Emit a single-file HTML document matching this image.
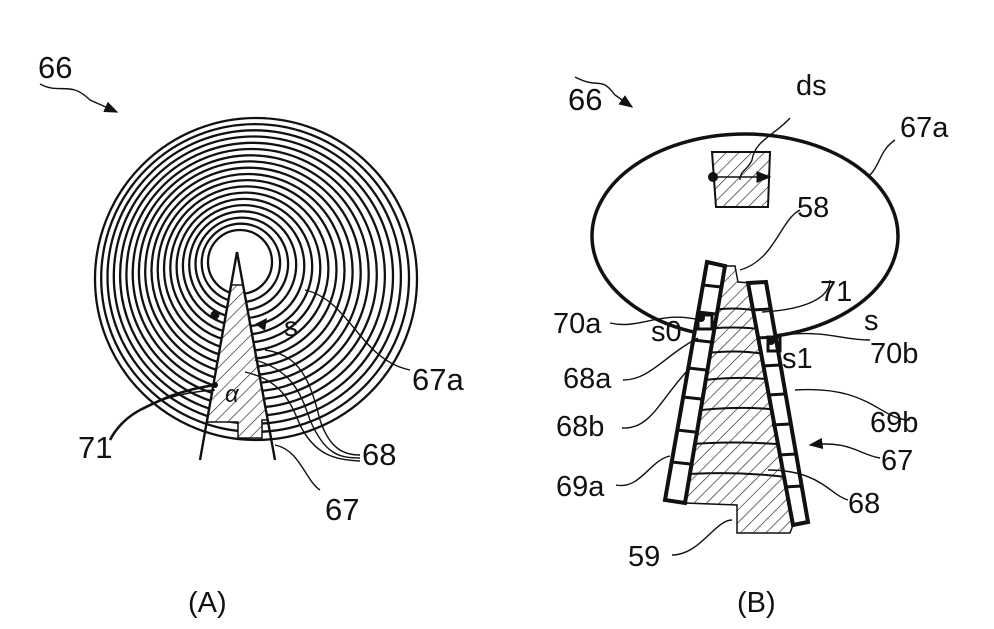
<!DOCTYPE html>
<html><head><meta charset="utf-8"><style>
html,body{margin:0;padding:0;background:#fff;}
svg{display:block;}
text{font-family:"Liberation Sans",sans-serif;fill:#111;}
</style></head><body>
<svg width="994" height="629" viewBox="0 0 994 629" xmlns="http://www.w3.org/2000/svg">
<defs>
<pattern id="h" width="9" height="9" patternUnits="userSpaceOnUse" patternTransform="rotate(45)">
<rect width="9" height="9" fill="#fff"/><line x1="0" y1="0" x2="0" y2="9" stroke="#222" stroke-width="1.3"/>
</pattern>
<marker id="ah" markerWidth="10" markerHeight="8" refX="9" refY="4" orient="auto"><path d="M0,0 L10,4 L0,8 z" fill="#111"/></marker>
</defs>
<g fill="none" stroke="#111" stroke-width="2.3">
<circle cx="240" cy="262" r="32"/><circle cx="240.9" cy="262.9" r="39.2"/><circle cx="241.8" cy="263.9" r="46.3"/>
<circle cx="242.7" cy="264.8" r="53.5"/><circle cx="243.6" cy="265.8" r="60.7"/><circle cx="244.4" cy="266.7" r="67.8"/>
<circle cx="245.3" cy="267.6" r="75"/><circle cx="246.2" cy="268.6" r="82.2"/><circle cx="247.1" cy="269.5" r="89.4"/>
<circle cx="248" cy="270.5" r="96.5"/><circle cx="248.9" cy="271.4" r="103.7"/><circle cx="249.8" cy="272.3" r="110.9"/>
<circle cx="250.7" cy="273.3" r="118"/><circle cx="251.6" cy="274.2" r="125.2"/><circle cx="252.5" cy="275.2" r="132.4"/>
<circle cx="253.4" cy="276.1" r="139.6"/><circle cx="254.2" cy="277" r="146.7"/><circle cx="255.1" cy="278" r="153.9"/>
<circle cx="256" cy="279" r="161"/>
</g>
<!-- wedge -->
<path d="M231,285 L243,285 L268,420 L262,420 L262,438 L238,438 L238,422 L207,422 Z" fill="url(#h)" stroke="#111" stroke-width="1.5"/>
<line x1="237" y1="252" x2="200" y2="460" stroke="#111" stroke-width="2.4"/>
<line x1="237" y1="252" x2="275" y2="460" stroke="#111" stroke-width="2.4"/>
<circle cx="215" cy="315" r="4.5" fill="#111"/><path d="M255,324 L267,318 L265,331 z" fill="#111"/>
<text x="284" y="336" font-size="28">s</text>
<text x="225" y="402" font-size="24" font-style="italic">α</text>
<circle cx="215" cy="385" r="3" fill="#111"/>
<g fill="none" stroke="#111" stroke-width="1.4">
<path d="M40,84 C60,95 70,80 90,100 L117,112" marker-end="url(#ah)"/>
<path d="M305,290 C350,300 360,360 410,370"/>
<path d="M265,350 C300,355 310,380 320,420 C330,450 345,455 360,455"/>
<path d="M255,360 C290,370 300,390 310,420 C325,455 340,458 360,458"/>
<path d="M245,372 C280,380 290,400 300,425 C315,455 335,460 360,461"/>
<path d="M215,385 C180,390 160,400 140,410 C125,418 115,430 110,440" stroke-width="2.6"/>
<path d="M215,390 C185,392 165,398 150,405"/>
<path d="M275,445 C300,450 305,480 320,490"/>
</g>
<text x="38" y="78" font-size="31">66</text>
<text x="412" y="390" font-size="31">67a</text>
<text x="78" y="458" font-size="31">71</text>
<text x="362" y="465" font-size="31">68</text>
<text x="325" y="520" font-size="31">67</text>
<text x="188" y="612" font-size="29">(A)</text>

<!-- Right figure -->
<ellipse cx="745" cy="236" rx="153" ry="102" fill="none" stroke="#111" stroke-width="3.5"/>
<path d="M712,152 L770,152 L768,207 L716,207 Z" fill="url(#h)" stroke="#111" stroke-width="2"/>
<line x1="713" y1="177" x2="770" y2="177" stroke="#111" stroke-width="1.5" marker-end="url(#ah)"/>
<circle cx="713" cy="177" r="5" fill="#111"/>
<path d="M725,266 L735,266 L738,282 L750,283 L793,525 L790,533 L737,533 L737,505 L685,503 Z" fill="url(#h)" stroke="#111" stroke-width="1.5"/>
<g fill="none" stroke="#111" stroke-width="2">
<path d="M700,312 Q735,305 762,312"/><path d="M697,330 Q735,325 766,330"/><path d="M693,355 Q735,348 770,355"/>
<path d="M690,382 Q735,375 776,380"/><path d="M685,412 Q735,405 781,410"/><path d="M680,445 Q735,440 787,445"/>
<path d="M673,475 Q735,470 793,478"/>
</g>
<path d="M707,262 L725,266 L685,503 L665,500 Z" fill="#fff" stroke="#111" stroke-width="4"/>
<path d="M748,283 L766,282 L808,522 L793,525 Z" fill="#fff" stroke="#111" stroke-width="4"/>
<g stroke="#111" stroke-width="3">
<line x1="703" y1="285" x2="721" y2="287"/><line x1="698" y1="312" x2="716" y2="314"/><line x1="693" y1="340" x2="711" y2="342"/>
<line x1="688" y1="368" x2="706" y2="370"/><line x1="683" y1="397" x2="701" y2="399"/><line x1="677" y1="430" x2="695" y2="432"/>
<line x1="672" y1="462" x2="690" y2="464"/>
<line x1="752" y1="310" x2="770" y2="309"/><line x1="757" y1="338" x2="775" y2="337"/><line x1="762" y1="366" x2="780" y2="365"/>
<line x1="767" y1="395" x2="785" y2="394"/><line x1="772" y1="425" x2="790" y2="424"/><line x1="778" y1="455" x2="796" y2="454"/>
<line x1="784" y1="487" x2="802" y2="486"/>
</g>
<rect x="698" y="315" width="14" height="14" fill="none" stroke="#111" stroke-width="3"/>
<rect x="768" y="337" width="12" height="14" fill="none" stroke="#111" stroke-width="3"/>
<circle cx="701" cy="318" r="4" fill="#111"/><circle cx="771" cy="341" r="4" fill="#111"/>
<g fill="none" stroke="#111" stroke-width="1.4">
<path d="M575,77 C600,90 600,75 615,95 L632,107" marker-end="url(#ah)"/>
<path d="M790,118 C775,135 755,140 752,160 C748,170 740,170 740,180"/>
<path d="M895,140 C880,150 880,165 870,175"/>
<path d="M800,210 C780,220 775,260 740,270"/>
<path d="M830,280 C830,300 800,310 762,312"/>
<path d="M610,323 C640,330 660,310 700,320"/>
<path d="M623,380 C650,380 665,355 698,338"/>
<path d="M622,428 C650,430 660,400 688,370"/>
<path d="M870,340 C840,340 830,330 780,335"/>
<path d="M910,420 C880,420 870,385 795,390"/>
<path d="M880,458 C860,455 850,440 810,445" marker-end="url(#ah)"/>
<path d="M616,485 C640,490 650,460 670,456"/>
<path d="M848,500 C830,495 820,470 768,470"/>
<path d="M672,555 C700,555 715,520 732,520"/>
</g>
<text x="568" y="110" font-size="31">66</text>
<text x="796" y="95" font-size="29">ds</text>
<text x="900" y="137" font-size="29">67a</text>
<text x="797" y="217" font-size="29">58</text>
<text x="820" y="301" font-size="29">71</text>
<text x="553" y="333" font-size="29">70a</text>
<text x="651" y="341" font-size="29">s0</text>
<text x="864" y="330" font-size="29">s</text>
<text x="870" y="363" font-size="29">70b</text>
<text x="782" y="368" font-size="29">s1</text>
<text x="563" y="388" font-size="29">68a</text>
<text x="556" y="436" font-size="29">68b</text>
<text x="870" y="432" font-size="29">69b</text>
<text x="881" y="470" font-size="29">67</text>
<text x="556" y="496" font-size="29">69a</text>
<text x="848" y="513" font-size="29">68</text>
<text x="628" y="566" font-size="29">59</text>
<text x="737" y="612" font-size="29">(B)</text>
</svg>
</body></html>
